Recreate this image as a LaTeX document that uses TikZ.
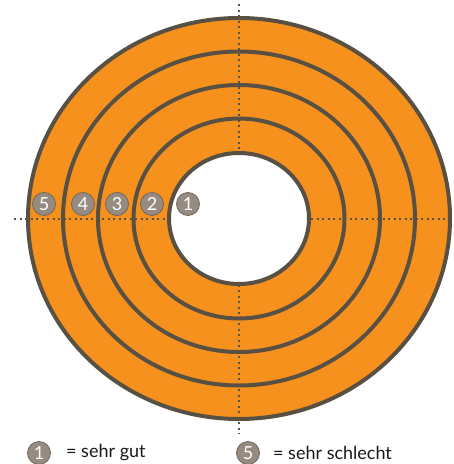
\documentclass[tikz,border=0pt]{standalone}
\usepackage{fontspec}
\setmainfont{Lato}
\usepackage{tikz}
\usetikzlibrary{calc}
\usepackage{xcolor}
\definecolor{ringorange}{RGB}{246,145,30}
\definecolor{ringdark}{RGB}{88,80,66}
\definecolor{markgray}{RGB}{150,139,128}
\definecolor{markedge}{RGB}{112,102,92}

\tikzset{
    gradebox/.style={circle,fill=markgray,draw=markedge,line width=0.8pt,minimum size=23pt,inner sep=0pt,text=white,font=\fontsize{18}{18}\selectfont},
    legendtext/.style={anchor=west,inner sep=0pt,text=black!90,font=\fontsize{18}{18}\selectfont},
    axisline/.style={ringdark,line width=2pt,dash pattern=on 2pt off 3.5pt}
}

\begin{document}
\begin{tikzpicture}[x=1pt,y=-1pt]
    \useasboundingbox (0,0) rectangle (454,464);
    \coordinate (c) at (239,218.5);
    % orange disc
    \fill[ringorange] (c) ellipse [x radius=211pt,y radius=200.5pt];
    % axes
    \draw[axisline] (14,219) -- (454,219);
    \draw[axisline] (239,4) -- (239,434);
    % rings
    \foreach \rx/\ry in {211/200.5,176/167,141/133.5,105.5/100}
        \draw[ringdark,line width=4pt] (c) ellipse [x radius=\rx pt,y radius=\ry pt];
    \draw[ringdark,line width=4pt,fill=white] (c) ellipse [x radius=70pt,y radius=65.5pt];
    % grades
    \node[gradebox] (g5) at (44,204) {5};
    \node[gradebox] (g4) at (83,204) {4};
    \node[gradebox] (g3) at (117,204) {3};
    \node[gradebox] (g2) at (152,204) {2};
    \node[gradebox] (g1) at (188,204) {1};
    % legend
    \node[gradebox] (k1) at (39,453) {1};
    \node[legendtext] (t1) at (66,453) {= sehr gut};
    \node[gradebox] (k5) at (248,453) {5};
    \node[legendtext] (t5) at (273,453) {= sehr schlecht};
\end{tikzpicture}
\end{document}
